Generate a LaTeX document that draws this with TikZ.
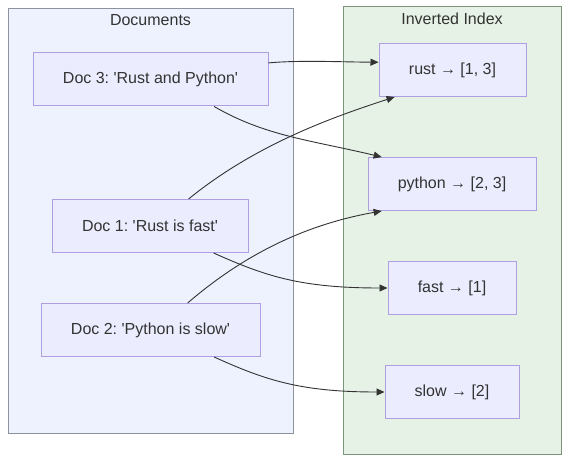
\documentclass[tikz,border=0pt]{standalone}
\usepackage{fontspec}
\setmainfont{Liberation Sans}
\usepackage{tikz}
\usetikzlibrary{shapes.geometric, positioning, arrows.meta, calc}

\definecolor{docfill}{HTML}{EEF2FF}
\definecolor{docline}{HTML}{8C939C}
\definecolor{idxfill}{HTML}{E5F2E5}
\definecolor{idxline}{HTML}{7A957A}
\definecolor{boxfill}{HTML}{ECECFF}
\definecolor{boxline}{HTML}{AE9FE0}
\definecolor{ink}{HTML}{333333}

\newcommand{\q}{\textquotesingle}
\frenchspacing

\tikzset{
    entry/.style={draw=boxline, fill=boxfill, line width=1pt,
                  minimum height=53pt, text=ink, inner sep=0pt},
    cluster/.style={line width=1pt, inner sep=0pt},
    title/.style={text=ink, anchor=center},
    link/.style={draw=ink, line width=0.9pt,
                 -{Triangle[length=8pt,width=7pt]}}
}

\begin{document}
\begin{tikzpicture}[x=1pt, y=-1pt, font=\fontsize{16}{19}\selectfont]
        \useasboundingbox (0,0) rectangle (570,462);

        % groups
        \node (docs) [cluster,
                      draw=docline,
                      fill=docfill,
                      minimum width=285pt,
                      minimum height=424pt] at (150.5,221) {};
        \node (index) [cluster,
                       draw=idxline,
                       fill=idxfill,
                       minimum width=218pt,
                       minimum height=447pt] at (452,230.5) {};
        \node (docstitle) [title] at (150.5,20) {Documents};
        \node (indextitle) [title] at (452,19) {Inverted Index};

        % documents
        \node (doc3) [entry, minimum width=235pt] at (150.5,79.5) {Doc 3: \q Rust and Python\q};
        \node (doc1) [entry, minimum width=196pt] at (150,226) {Doc 1: \q Rust is fast\q};
        \node (doc2) [entry, minimum width=219pt] at (150.5,330) {Doc 2: \q Python is slow\q};

        % index terms
        \node (rust) [entry, minimum width=147pt] at (452.5,70) {rust → [1, 3]};
        \node (python) [entry, minimum width=168pt] at (452,184) {python → [2, 3]};
        \node (fast) [entry, minimum width=128pt] at (452,288) {fast → [1]};
        \node (slow) [entry, minimum width=134pt] at (452,392) {slow → [2]};

        % postings
        \draw[link] (doc3.8) .. controls (300,60) and (340,62) .. (rust.174.6);
        \draw[link] (doc3.-23) .. controls (265,136) and (310,140) .. (python.159.4);
        \draw[link] (doc1.35) .. controls (255,145) and (330,118) .. (rust.205.2);
        \draw[link] (doc1.-23) .. controls (265,276) and (300,288) .. (fast.west);
        \draw[link] (doc2.36) .. controls (255,245) and (320,222) .. (python.201.3);
        \draw[link] (doc2.-23) .. controls (265,380) and (300,392) .. (slow.west);
    \end{tikzpicture}
\end{document}
